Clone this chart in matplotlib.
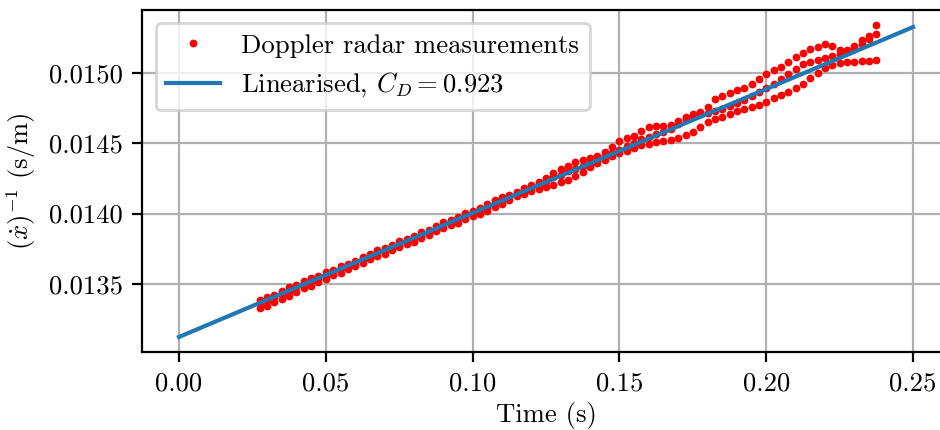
import matplotlib
matplotlib.use("Agg")
import matplotlib.pyplot as plt
import numpy as np

plt.rcParams["font.family"] = "serif"
plt.rcParams["font.serif"] = ["cmr10", "DejaVu Serif"]
plt.rcParams["mathtext.fontset"] = "cm"
plt.rcParams["axes.formatter.use_mathtext"] = True
plt.rcParams["axes.unicode_minus"] = False
plt.rcParams["font.size"] = 9.6

# Radar sample times (ms)
time_ms = [
    27.5, 30.0, 32.5, 35.0, 37.5, 40.0, 42.5, 45.0, 47.5, 50.0,
    52.5, 55.0, 57.5, 60.0, 62.5, 65.0, 67.5, 70.0, 72.5, 75.0,
    77.5, 80.0, 82.5, 85.0, 87.5, 90.0, 92.5, 95.0, 97.5, 100.0,
    102.5, 105.0, 107.5, 110.0, 112.5, 115.0, 117.5, 120.0, 122.5, 125.0,
    127.5, 130.0, 132.5, 135.0, 137.5, 140.0, 142.5, 145.0, 147.5, 150.0,
    152.5, 155.0, 157.5, 160.0, 162.5, 165.0, 167.5, 170.0, 172.5, 175.0,
    177.5, 180.0, 182.5, 185.0, 187.5, 190.0, 192.5, 195.0, 197.5, 200.0,
    202.5, 205.0, 207.5, 210.0, 212.5, 215.0, 217.5, 220.0, 222.5, 225.0,
    227.5, 230.0, 232.5, 235.0, 237.5,
]

# Inverse speed (us/m) from three radar returns
inv_speed_a = [
    13387, 13409, 13424, 13453, 13475, 13490, 13519, 13541, 13556, 13585,
    13600, 13629, 13644, 13666, 13695, 13710, 13739, 13754, 13776, 13805,
    13820, 13842, 13871, 13886, 13909, 13938, 13953, 13975, 14004, 14019,
    14041, 14070, 14099, 14121, 14136, 14151, 14180, 14202, 14224, 14253,
    14290, 14319, 14341, 14370, 14378, 14393, 14407, 14437, 14473, 14517,
    14539, 14554, 14590, 14619, 14620, 14621, 14628, 14658, 14687, 14709,
    14724, 14760, 14817, 14839, 14861, 14876, 14891, 14920, 14956, 14993,
    15022, 15044, 15080, 15116, 15145, 15168, 15183, 15205, 15192, 15164,
    15165, 15194, 15237, 15266, 15338,
]
inv_speed_b = [
    13366, 13380, 13410, 13432, 13447, 13476, 13505, 13520, 13535, 13564,
    13586, 13615, 13630, 13645, 13674, 13696, 13725, 13740, 13762, 13777,
    13806, 13835, 13850, 13872, 13887, 13917, 13939, 13968, 13983, 14005,
    14034, 14049, 14078, 14093, 14115, 14144, 14159, 14181, 14210, 14232,
    14261, 14276, 14305, 14320, 14342, 14357, 14379, 14408, 14430, 14453,
    14482, 14504, 14533, 14548, 14563, 14578, 14600, 14636, 14672, 14694,
    14709, 14717, 14732, 14747, 14762, 14784, 14806, 14835, 14864, 14893,
    14922, 14958, 14995, 15031, 15061, 15076, 15091, 15106, 15121, 15135,
    15150, 15179, 15209, 15245, 15281,
]
inv_speed_c = [
    13330, 13345, 13374, 13396, 13411, 13440, 13470, 13484, 13514, 13536,
    13565, 13580, 13609, 13631, 13646, 13675, 13697, 13712, 13741, 13763,
    13785, 13800, 13829, 13851, 13880, 13895, 13917, 13933, 13962, 13984,
    13999, 14021, 14050, 14072, 14094, 14123, 14138, 14160, 14175, 14189,
    14204, 14226, 14241, 14270, 14299, 14329, 14358, 14380, 14409, 14432,
    14447, 14469, 14491, 14498, 14506, 14514, 14522, 14537, 14559, 14581,
    14617, 14653, 14675, 14690, 14712, 14727, 14742, 14757, 14772, 14794,
    14823, 14845, 14867, 14896, 14925, 14961, 14998, 15035, 15057, 15071,
    15079, 15080, 15088, 15088, 15096,
]

# Linearised drag model end points
fit_time_s = [0.0, 0.25]
fit_inv_speed = [0.013123, 0.015327]
drag_coefficient = 0.923

x_ticks = [0.00, 0.05, 0.10, 0.15, 0.20, 0.25]
y_ticks = [0.0135, 0.0140, 0.0145, 0.0150]

t_s = np.array(time_ms) / 1000.0
meas_t = np.concatenate([t_s, t_s, t_s])
meas_y = np.concatenate([inv_speed_a, inv_speed_b, inv_speed_c]) / 1e6

fig = plt.figure(figsize=(4.7, 2.15), dpi=200)
ax = fig.add_axes([0.1514, 0.1814, 0.859, 0.7953])

ax.plot(meas_t, meas_y, linestyle="none", marker="o", color="#ff0000",
        markersize=2.8, markeredgewidth=0, label="Doppler radar measurements")
ax.plot(fit_time_s, fit_inv_speed, color="#1f77b4", linewidth=1.5,
        label=rf"Linearised, $C_D = {drag_coefficient}$")

ax.set_xlim(-0.0125, 0.2625)
ax.set_ylim(0.013016, 0.015448)
ax.set_xticks(x_ticks)
ax.set_xticklabels([f"{v:.2f}" for v in x_ticks])
ax.set_yticks(y_ticks)
ax.set_yticklabels([f"{v:.4f}" for v in y_ticks])
ax.grid(True)
ax.set_xlabel("Time (s)", labelpad=2.5)
ax.set_ylabel(r"$(\dot{x})^{-1}$ (s/m)")
ax.legend(loc="upper left")

fig.savefig("out.png", dpi=200)
